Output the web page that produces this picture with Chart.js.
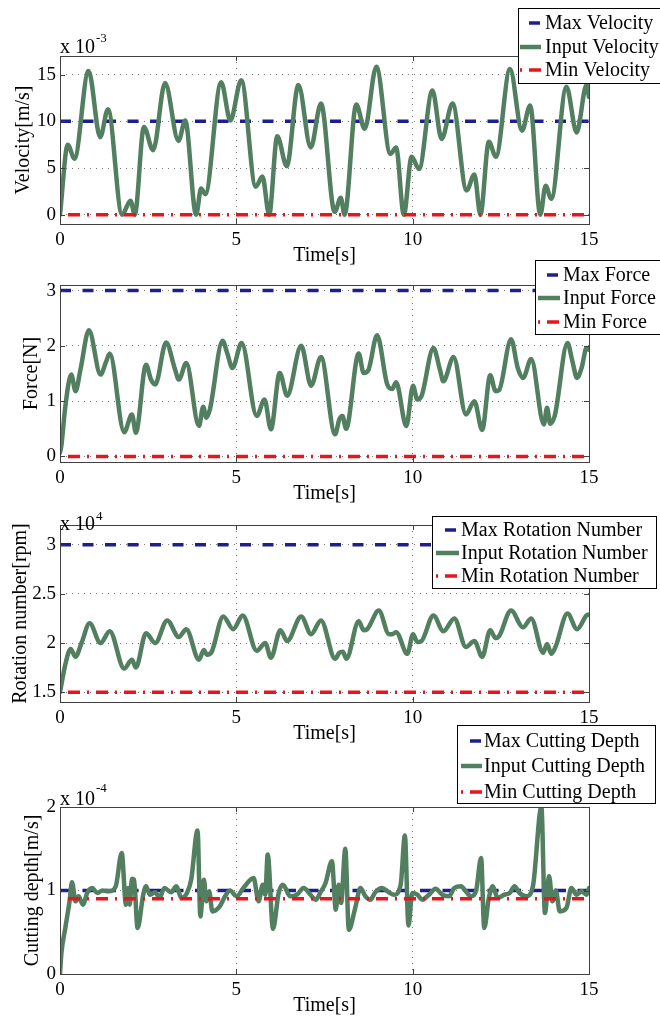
<!DOCTYPE html>
<html>
<head>
<meta charset="utf-8">
<script src="https://cdn.jsdelivr.net/npm/chart.js@4.4.0/dist/chart.umd.min.js"></script>
<style>
  html, body { margin: 0; padding: 0; background: #fff; overflow: hidden; }
  #page { position: relative; width: 660px; height: 1017px; }
  canvas { position: absolute; left: 0; }
</style>
</head>
<body>
<div id="page">
  <canvas id="velocityChart" width="660" height="268" style="top:0px"></canvas>
  <canvas id="forceChart" width="660" height="256" style="top:250px"></canvas>
  <canvas id="rotationChart" width="660" height="246" style="top:500px"></canvas>
  <canvas id="depthChart" width="660" height="303" style="top:715px"></canvas>
</div>
<script>
// time axis
const timeSpan = [0, 15];
const timeTicks = [0, 5, 10, 15];

// velocity (x 10^-3 m/s)
const velTicks = [0, 5, 10, 15];
const velMax = [10, 10];
const velMin = [0, 0];
const velTime = [0, 0.22, 0.41, 0.81, 1.14, 1.36, 1.76, 2.0, 2.12, 2.38,
  2.64, 2.98, 3.36, 3.55, 3.86, 4.0, 4.12, 4.57, 4.83, 5.14,
  5.55, 5.74, 5.93, 6.16, 6.43, 6.76, 7.11, 7.40, 7.79, 7.96,
  8.07, 8.40, 8.64, 8.97, 9.37, 9.53, 9.75, 9.97, 10.18, 10.56,
  10.82, 11.13, 11.53, 11.75, 11.92, 12.16, 12.36, 12.76, 13.10, 13.33,
  13.62, 13.77, 13.93, 14.36, 14.65, 14.93, 15.0];
const velValue = [0, 7.5, 6.0, 15.4, 8.3, 11.3, 0, 1.5, 0, 9.4,
  6.9, 14.1, 7.9, 10.1, 0, 2.8, 2.2, 14.2, 10.1, 14.4,
  3.0, 4.1, 0, 8.4, 5.2, 13.9, 7.2, 11.9, 0.3, 1.8,
  0, 11.8, 9.2, 15.85, 6.5, 7.2, 0, 6.2, 4.9, 13.3,
  8.1, 11.9, 2.6, 4.3, 0, 7.8, 6.2, 15.6, 9.0, 11.7,
  0, 3.1, 1.7, 13.7, 8.8, 13.9, 12.6];

// force (N)
const forceTicks = [0, 1, 2, 3];
const forceMax = [3, 3];
const forceMin = [0, 0];
const forceTime = [0, 0.04, 0.15, 0.32, 0.44, 0.58, 0.82, 1.15, 1.30, 1.41,
  1.82, 2.04, 2.15, 2.44, 2.58, 2.70, 3.01, 3.25, 3.37, 3.58,
  3.94, 4.06, 4.15, 4.25, 4.61, 4.74, 4.89, 5.15, 5.58, 5.80,
  5.98, 6.23, 6.44, 6.84, 7.12, 7.40, 7.80, 7.92, 8.01, 8.11,
  8.47, 8.61, 8.75, 8.99, 9.28, 9.42, 9.53, 9.82, 10.01, 10.13,
  10.25, 10.59, 10.77, 10.87, 11.16, 11.51, 11.75, 11.97, 12.20, 12.35,
  12.45, 12.79, 12.98, 13.13, 13.36, 13.72, 13.81, 13.90, 14.03, 14.39,
  14.53, 14.66, 14.79, 14.93, 15.0];
const forceValue = [0.07, 0.2, 0.9, 1.48, 1.18, 1.57, 2.28, 1.48, 1.70, 1.86,
  0.44, 0.76, 0.43, 1.66, 1.39, 1.30, 2.06, 1.60, 1.39, 1.69,
  0.55, 0.90, 0.70, 0.85, 2.09, 1.87, 1.60, 2.05, 0.73, 1.03,
  0.49, 1.51, 1.10, 2.00, 1.28, 1.80, 0.40, 0.67, 0.73, 0.50,
  1.86, 1.51, 1.57, 2.19, 1.30, 1.22, 1.34, 0.55, 1.28, 1.03,
  1.09, 1.96, 1.58, 1.36, 1.80, 0.76, 1.00, 0.48, 1.47, 1.18,
  1.20, 2.12, 1.60, 1.42, 1.76, 0.58, 0.88, 0.59, 0.74, 2.05,
  1.72, 1.42, 1.60, 1.96, 1.93];

// rotation number (x 10^4 rpm)
const rotTicks = [1.5, 2, 2.5, 3];
const rotMax = [3, 3];
const rotMin = [1.5, 1.5];
const rotTime = [0, 0.15, 0.30, 0.44, 0.61, 0.84, 1.15, 1.41, 1.82, 2.04,
  2.15, 2.44, 2.70, 3.04, 3.37, 3.58, 3.94, 4.08, 4.17, 4.30,
  4.63, 4.91, 5.18, 5.58, 5.82, 5.98, 6.25, 6.44, 6.84, 7.12,
  7.40, 7.80, 7.92, 8.02, 8.12, 8.47, 8.61, 8.71, 9.04, 9.33,
  9.42, 9.53, 9.85, 10.01, 10.13, 10.25, 10.59, 10.87, 11.18, 11.51,
  11.75, 11.97, 12.20, 12.35, 12.45, 12.79, 13.13, 13.36, 13.70, 13.81,
  13.93, 14.05, 14.39, 14.66, 14.93, 15.0];
const rotValue = [1.50, 1.78, 1.94, 1.86, 2.00, 2.20, 2.00, 2.12, 1.74, 1.83,
  1.75, 2.10, 2.00, 2.23, 2.06, 2.14, 1.83, 1.93, 1.88, 1.91,
  2.27, 2.14, 2.28, 1.92, 2.00, 1.85, 2.13, 2.02, 2.27, 2.09,
  2.23, 1.84, 1.90, 1.91, 1.84, 2.22, 2.13, 2.14, 2.33, 2.09,
  2.09, 2.11, 1.89, 2.09, 2.01, 2.02, 2.28, 2.12, 2.25, 1.96,
  2.02, 1.86, 2.13, 2.05, 2.07, 2.33, 2.16, 2.25, 1.90, 1.99,
  1.89, 1.96, 2.30, 2.14, 2.28, 2.29];

// cutting depth (x 10^-4)
const depthTicks = [0, 1, 2];
const depthMax = [1, 1];
const depthMin = [0.9, 0.9];
const depthTime = [0, 0.04, 0.15, 0.27, 0.34, 0.44, 0.53, 0.65, 0.77, 0.91,
  1.06, 1.20, 1.39, 1.58, 1.75, 1.87, 1.93, 1.98, 2.04, 2.10,
  2.20, 2.36, 2.44, 2.55, 2.70, 2.82, 2.96, 3.15, 3.30, 3.44,
  3.60, 3.72, 3.90, 3.98, 4.08, 4.15, 4.23, 4.32, 4.53, 4.68,
  4.82, 5.01, 5.20, 5.49, 5.63, 5.75, 5.82, 5.89, 6.04, 6.20,
  6.32, 6.53, 6.72, 6.91, 7.10, 7.25, 7.39, 7.53, 7.71, 7.82,
  7.90, 7.97, 8.09, 8.19, 8.37, 8.52, 8.66, 8.80, 8.94, 9.13,
  9.32, 9.47, 9.66, 9.78, 9.88, 9.99, 10.13, 10.27, 10.46, 10.65,
  10.84, 11.03, 11.18, 11.37, 11.51, 11.65, 11.80, 11.94, 12.03, 12.16,
  12.27, 12.41, 12.60, 12.75, 12.89, 13.03, 13.22, 13.41, 13.65, 13.75,
  13.87, 13.96, 14.06, 14.17, 14.36, 14.50, 14.65, 14.79, 14.93, 15.0];
const depthValue = [0, 0.25, 0.55, 0.87, 1.10, 0.87, 0.93, 0.83, 0.97, 1.03,
  0.97, 1.00, 0.99, 1.05, 1.45, 0.83, 1.03, 0.83, 1.14, 1.13,
  0.55, 0.95, 1.05, 0.95, 0.98, 0.91, 1.03, 0.98, 1.05, 0.91,
  0.97, 1.13, 1.72, 0.69, 1.13, 0.87, 0.99, 0.75, 0.81, 0.93,
  1.00, 0.93, 1.03, 1.15, 0.87, 1.07, 0.95, 1.43, 0.54, 0.97,
  1.07, 0.93, 0.95, 1.03, 0.95, 0.89, 0.98, 1.09, 1.35, 0.77,
  1.07, 0.85, 1.50, 0.53, 0.79, 1.03, 0.93, 0.89, 0.98, 1.03,
  0.98, 0.95, 1.07, 1.66, 0.58, 0.97, 0.95, 0.89, 0.95, 1.02,
  0.95, 0.93, 1.03, 1.05, 0.99, 0.93, 1.00, 1.39, 0.55, 0.91,
  1.05, 0.91, 0.95, 0.97, 1.05, 0.97, 0.93, 1.05, 2.00, 0.73,
  1.17, 0.87, 1.00, 0.75, 0.79, 1.03, 0.95, 0.99, 0.95, 1.03];

const maxColor = '#1f1f8c';
const inputColor = '#527f5f';
const minColor = '#e8141e';
const serif = '"Liberation Serif", "Times New Roman", serif';

Chart.defaults.font.family = serif;
Chart.defaults.font.size = 19;
Chart.defaults.color = '#000';

function toPoints(xs, ys) {
  return xs.map((x, i) => ({ x: x, y: ys[i] }));
}

// box, inward ticks, exponent and legend drawn like matlab
const matlabAxes = {
  id: 'matlabAxes',
  afterDraw(chart, args, opts) {
    const ctx = chart.ctx;
    const a = chart.chartArea;
    const xs = chart.scales.x, ys = chart.scales.y;
    const seg = (x0, y0, x1, y1) => { ctx.beginPath(); ctx.moveTo(x0, y0); ctx.lineTo(x1, y1); ctx.stroke(); };
    ctx.save();
    ctx.setLineDash([]);
    ctx.strokeStyle = '#404040';
    ctx.lineWidth = 1;
    ctx.strokeRect(Math.round(a.left) + 0.5, Math.round(a.top) + 0.5, Math.round(a.width), Math.round(a.height));
    xs.ticks.forEach(t => {
      const px = Math.round(xs.getPixelForValue(t.value)) + 0.5;
      seg(px, a.bottom, px, a.bottom - 5);
      seg(px, a.top, px, a.top + 5);
    });
    ys.ticks.forEach(t => {
      const py = Math.round(ys.getPixelForValue(t.value)) + 0.5;
      seg(a.left, py, a.left + 5, py);
      seg(a.right, py, a.right - 5, py);
    });

    if (opts.exponent) {
      ctx.fillStyle = '#000';
      ctx.textAlign = 'left';
      ctx.textBaseline = 'alphabetic';
      ctx.font = '20px ' + serif;
      ctx.fillText('x 10', a.left, a.top + opts.exponent.dy);
      const w = ctx.measureText('x 10').width;
      ctx.font = '13px ' + serif;
      ctx.fillText(opts.exponent.text, a.left + w + 1, a.top + opts.exponent.supDy);
    }

    const lg = opts.legend;
    if (lg) {
      ctx.fillStyle = '#fff';
      ctx.fillRect(lg.x, lg.y, lg.w, lg.h);
      ctx.strokeStyle = '#000';
      ctx.lineWidth = 1;
      ctx.strokeRect(lg.x + 0.5, lg.y + 0.5, lg.w, lg.h);
      chart.data.datasets.forEach((ds, i) => {
        const cy = lg.rows[i];
        ctx.strokeStyle = ds.borderColor;
        ctx.lineWidth = ds.borderWidth;
        ctx.lineCap = 'butt';
        ctx.setLineDash(ds.borderDash || []);
        ctx.lineDashOffset = lg.dashOffsets[i];
        seg(lg.sx0, cy, lg.sx1, cy);
        ctx.setLineDash([]);
        ctx.fillStyle = '#000';
        ctx.font = '20px ' + serif;
        ctx.textAlign = 'left';
        ctx.textBaseline = 'middle';
        ctx.fillText(ds.label, lg.tx, cy + 1);
      });
    }
    ctx.restore();
  }
};

function makeChart(p) {
  return new Chart(document.getElementById(p.id), {
    type: 'line',
    data: {
      datasets: [
        { label: p.labels[0], data: toPoints(timeSpan, p.max), borderColor: maxColor, borderWidth: 3.5,
          borderDash: [11, 11.5], borderCapStyle: 'butt', pointRadius: 0, order: 2 },
        { label: p.labels[1], data: toPoints(p.t, p.v), borderColor: inputColor, borderWidth: 4.5,
          cubicInterpolationMode: 'monotone', borderJoinStyle: 'round', borderCapStyle: 'round', pointRadius: 0, order: 1 },
        { label: p.labels[2], data: toPoints(timeSpan, p.min), borderColor: minColor, borderWidth: 3.5,
          borderDash: [12, 7, 2, 7], borderDashOffset: 20, borderCapStyle: 'butt', pointRadius: 0, order: 0 }
      ]
    },
    options: {
      responsive: false,
      animation: false,
      events: [],
      layout: { padding: { top: p.padTop, right: 71, bottom: 0, left: 0 } },
      scales: {
        x: {
          type: 'linear', min: 0, max: 15,
          afterBuildTicks: s => { s.ticks = timeTicks.map(v => ({ value: v })); },
          afterFit: s => { s.height = 44; },
          ticks: { padding: 5, maxRotation: 0, callback: v => String(v) },
          grid: { color: '#7a7a7a', lineWidth: 1, drawTicks: false },
          border: { display: false, dash: [1, 5] },
          title: { display: true, text: 'Time[s]', font: { size: 20 }, padding: { top: 0, bottom: 0 } }
        },
        y: {
          type: 'linear', min: p.yMin, max: p.yMax,
          afterBuildTicks: s => { s.ticks = p.yTicks.map(v => ({ value: v })); },
          afterFit: s => { s.width = 60; },
          ticks: { padding: 4, callback: v => String(v) },
          grid: { color: '#7a7a7a', lineWidth: 1, drawTicks: false },
          border: { display: false, dash: [1, 5] },
          title: { display: true, text: p.yTitle, font: { size: 20 }, padding: { top: p.yTitlePad, bottom: 0 } }
        }
      },
      plugins: {
        legend: { display: false },
        tooltip: { enabled: false },
        matlabAxes: { exponent: p.exponent, legend: p.legend }
      }
    },
    plugins: [matlabAxes]
  });
}

const panels = [
  { id: 'velocityChart', padTop: 56, yMin: -1, yMax: 17, yTicks: velTicks,
    yTitle: 'Velocity[m/s]', yTitlePad: 12,
    labels: ['Max Velocity', 'Input Velocity', 'Min Velocity'],
    t: velTime, v: velValue, max: velMax, min: velMin,
    exponent: { text: '-3', dy: -3, supDy: -14 },
    legend: { x: 518, y: 8, w: 144, h: 75, rows: [23, 47, 70], sx0: 520, sx1: 541, tx: 545, dashOffsets: [13.5, 0, 19] } },
  { id: 'forceChart', padTop: 35, yMin: -0.1, yMax: 3.1, yTicks: forceTicks,
    yTitle: 'Force[N]', yTitlePad: 20,
    labels: ['Max Force', 'Input Force', 'Min Force'],
    t: forceTime, v: forceValue, max: forceMax, min: forceMin,
    exponent: null,
    legend: { x: 535, y: 10, w: 127, h: 74, rows: [25, 48, 72], sx0: 538, sx1: 560, tx: 563, dashOffsets: [13.5, 0, 19] } },
  { id: 'rotationChart', padTop: 25, yMin: 1.4, yMax: 3.2, yTicks: rotTicks,
    yTitle: 'Rotation number[rpm]', yTitlePad: 9,
    labels: ['Max Rotation Number', 'Input Rotation Number', 'Min Rotation Number'],
    t: rotTime, v: rotValue, max: rotMax, min: rotMin,
    exponent: { text: '4', dy: 5, supDy: -5 },
    legend: { x: 432, y: 16, w: 224, h: 72, rows: [30, 53, 76], sx0: 436, sx1: 459, tx: 461, dashOffsets: [13.5, 0, 19] } },
  { id: 'depthChart', padTop: 92, yMin: 0, yMax: 2, yTicks: depthTicks,
    yTitle: 'Cutting depth[m/s]', yTitlePad: 21,
    labels: ['Max Cutting Depth', 'Input Cutting Depth', 'Min Cutting Depth'],
    t: depthTime, v: depthValue, max: depthMax, min: depthMin,
    exponent: { text: '-4', dy: -2, supDy: -15 },
    legend: { x: 457, y: 10, w: 198, h: 78, rows: [26, 51, 77], sx0: 461, sx1: 482, tx: 484, dashOffsets: [13.5, 0, 19] } }
];

panels.forEach(makeChart);
</script>
</body>
</html>
